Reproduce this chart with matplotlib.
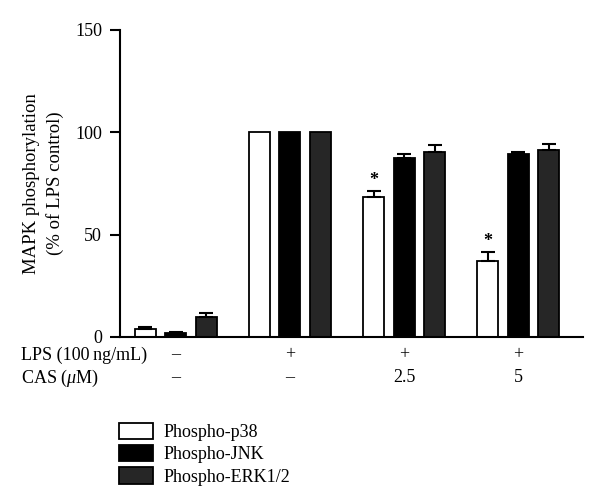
import numpy as np
import matplotlib
matplotlib.use("Agg")
import matplotlib.pyplot as plt

plt.rcParams['font.family'] = ['Liberation Serif', 'DejaVu Serif']
plt.rcParams['mathtext.fontset'] = 'custom'
plt.rcParams['mathtext.it'] = 'Liberation Serif:italic'
plt.rcParams['mathtext.rm'] = 'Liberation Serif'

lps_row = ['–', '+', '+', '+']
cas_row = ['–', '–', '2.5', '5']
series = ['Phospho-p38', 'Phospho-JNK', 'Phospho-ERK1/2']
p38 = [3.9, 100, 68.3, 37.3]
p38_err = [1.0, 0, 2.8, 4.3]
jnk = [2.0, 100, 87.7, 89.6]
jnk_err = [0.5, 0, 1.6, 0.9]
erk = [9.8, 100, 90.2, 91.5]
erk_err = [1.7, 0, 3.6, 2.8]
signif = [False, False, True, True]

colors = ['white', 'black', '#262626']

fig = plt.figure(figsize=(6, 4.95), dpi=100)
ax = fig.add_axes([0.2, 0.3192, 0.772, 0.6202])

x = np.arange(len(lps_row))
offset = 0.268
width = 0.184
vals = [p38, jnk, erk]
errs = [p38_err, jnk_err, erk_err]
handles = []
for i in range(3):
    xi = x + (i - 1) * offset
    h = ax.bar(xi, vals[i], width, color=colors[i], edgecolor='black',
               linewidth=1.3, label=series[i], zorder=2)
    handles.append(h)
    e = np.array(errs[i])
    m = e > 0
    ax.errorbar(xi[m], np.array(vals[i])[m], yerr=[np.zeros(m.sum()), e[m]],
                fmt='none', ecolor='black', elinewidth=1.5, capsize=5,
                capthick=1.5, zorder=3)

# asterisks over p38
for j in range(len(x)):
    if signif[j]:
        ax.text(x[j] - offset, p38[j] + p38_err[j] + 1.0, '*',
                ha='center', va='bottom', fontsize=13, fontweight='bold')

ax.set_xlim(-0.49, 3.57)
ax.set_ylim(0, 150)
ax.set_yticks([0, 50, 100, 150])
ax.tick_params(axis='y', direction='out', length=7, width=1.5, labelsize=13, pad=6)
ax.tick_params(axis='x', length=0)
ax.set_xticks([])
for s in ['top', 'right']:
    ax.spines[s].set_visible(False)
for s in ['left', 'bottom']:
    ax.spines[s].set_linewidth(1.5)
ax.set_ylabel('MAPK phosphorylation\n(% of LPS control)', fontsize=13.5, labelpad=8,
              linespacing=1.4)

# condition rows below the axis
fig.text(0.035, 1 - 355 / 495, 'LPS (100\u2009ng/mL)', fontsize=13, va='center', ha='left')
fig.text(0.035, 1 - 378 / 495, 'CAS ($\\mathit{\\mu}$M)', fontsize=13, va='center', ha='left')
trans = ax.get_xaxis_transform()
for j in range(len(x)):
    ax.text(x[j], -18 / 307, lps_row[j], transform=trans, ha='center', va='center', fontsize=13)
    ax.text(x[j], -41 / 307, cas_row[j], transform=trans, ha='center', va='center', fontsize=13)

fig.legend(handles=handles, labels=series, loc='upper left',
           bbox_to_anchor=(119 / 600, 1 - 423 / 495), frameon=False, fontsize=13,
           handlelength=1.9, handleheight=1.0, labelspacing=0.22, handletextpad=0.55,
           borderpad=0, borderaxespad=0)

fig.savefig('out.png', dpi=100)
